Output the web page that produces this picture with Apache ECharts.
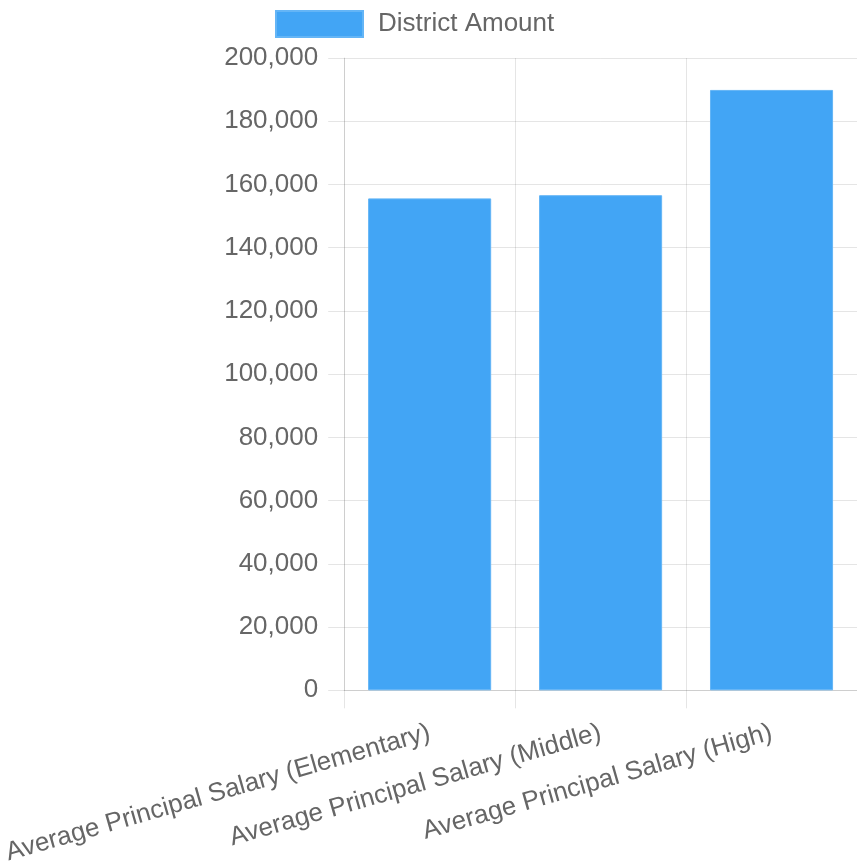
<!DOCTYPE html>
<html>
<head>
<meta charset="utf-8">
<script src="https://cdn.jsdelivr.net/npm/echarts@6/dist/echarts.min.js"></script>
<style>
html,body{margin:0;padding:0;background:#fff;}
#chart{width:857px;height:867px;}
</style>
</head>
<body>
<div id="chart"></div>
<script>
const categories = [
  "Average Principal Salary (Elementary)",
  "Average Principal Salary (Middle)",
  "Average Principal Salary (High)"
];
const seriesName = "District Amount";
const districtAmount = [155600, 156600, 189900];
const yMin = 0, yMax = 200000, yStep = 20000;

const FONT = "'Liberation Sans', Arial, Helvetica, sans-serif";
const gridColor = "rgba(0,0,0,0.1)";
const chart = echarts.init(document.getElementById('chart'));
chart.setOption({
  animation: false,
  legend: {
    data: [seriesName],
    left: 270, top: 5,
    icon: 'rect',
    itemWidth: 87, itemHeight: 26,
    textStyle: { fontFamily: FONT, fontSize: 26, color: '#666', padding: [0,0,0,10] }
  },
  grid: { left: 344, right: 0, top: 58, bottom: 173, containLabel: false },
  xAxis: {
    type: 'category',
    data: categories,
    boundaryGap: true,
    axisLine: { show: true, lineStyle: { color: gridColor, width: 1 } },
    axisTick: { show: true, length: 18, alignWithLabel: false, lineStyle: { color: gridColor } },
    splitLine: { show: true, lineStyle: { color: gridColor, width: 1 } },
    axisLabel: { rotate: 16, margin: 42, fontFamily: FONT, fontSize: 26, color: '#666', interval: 0 }
  },
  yAxis: {
    type: 'value',
    min: yMin, max: yMax, interval: yStep,
    axisLine: { show: true, lineStyle: { color: gridColor, width: 1 } },
    axisTick: { show: true, length: 16, lineStyle: { color: gridColor } },
    splitLine: { show: true, lineStyle: { color: gridColor, width: 1 } },
    axisLabel: {
      margin: 26, fontFamily: FONT, fontSize: 26, color: '#666',
      formatter: v => v.toLocaleString('en-US')
    }
  },
  series: [{
    name: seriesName,
    type: 'bar',
    data: districtAmount,
    barWidth: '72%',
    itemStyle: { color: '#42A5F5', borderColor: '#64B5F6', borderWidth: 1 }
  }]
});
</script>
</body>
</html>
